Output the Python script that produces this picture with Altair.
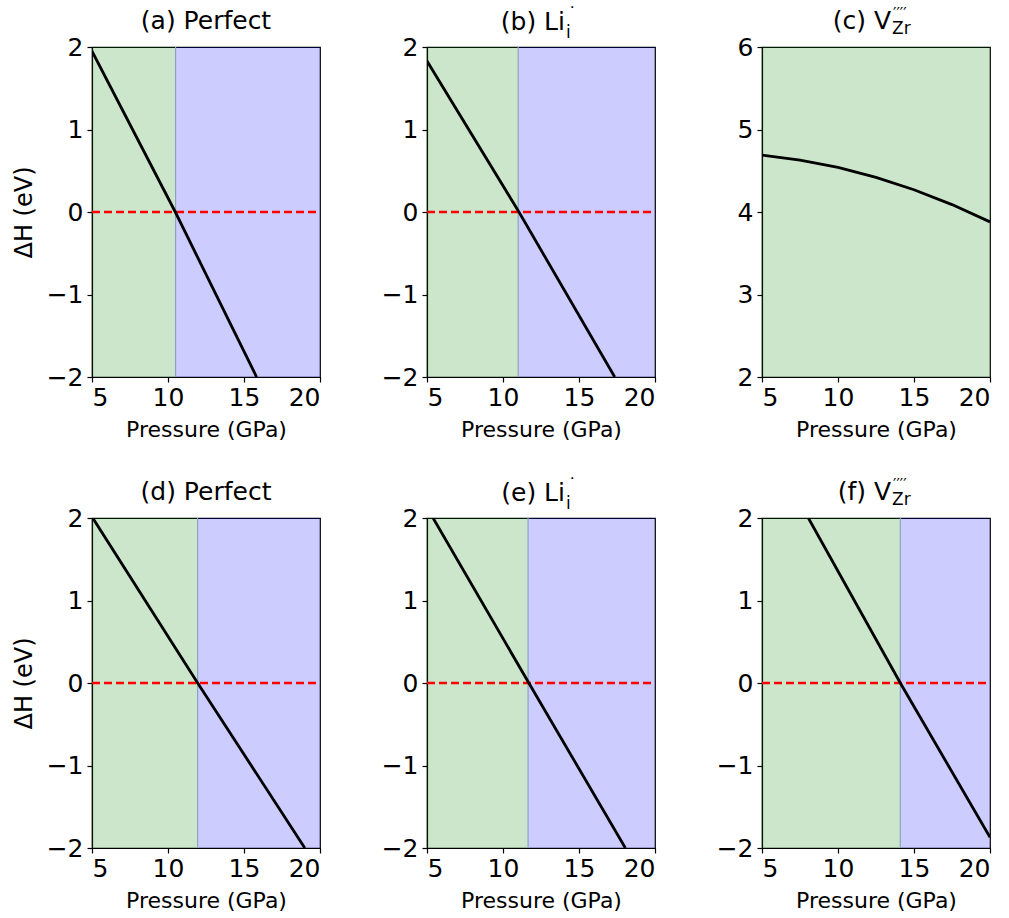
import altair as alt
import pandas as pd

# ---- data ----
a_p = [5.0, 10.48, 15.83]
a_h = [1.95, 0.0, -2.0]
a_b = 10.5

b_p = [5.0, 11.05, 17.35]
b_h = [1.83, 0.0, -2.0]
b_b = 11.0

c_p = [5.0, 7.5, 10.0, 12.5, 15.0, 17.5, 20.0]
c_h = [4.69, 4.63, 4.54, 4.42, 4.27, 4.09, 3.88]
c_b = 20.0

d_p = [5.05, 11.95, 19.0]
d_h = [2.0, 0.0, -2.0]
d_b = 11.95

e_p = [5.4, 11.7, 18.05]
e_h = [2.0, 0.0, -2.0]
e_b = 11.65

f_p = [8.05, 14.1, 20.0]
f_h = [2.0, 0.0, -1.87]
f_b = 14.1

x_min, x_max = 5, 20
x_ticks = [5, 10, 15, 20]

W, H = 228, 330
FONT = "DejaVu Sans"


def title_layers(parts):
    out = []
    for text, dx, dy, size, align in parts:
        out.append(
            alt.Chart(alt.Data(values=[{}]))
            .mark_text(text=text, font=FONT, fontSize=size, align=align,
                       baseline="alphabetic", color="black", clip=False)
            .encode(x=alt.value(dx), y=alt.value(dy))
        )
    return out


def panel(p, h, boundary, ydom, yticks, parts, ytitle, red=True):
    xs = alt.Scale(domain=[x_min, x_max], nice=False, zero=False)
    ys = alt.Scale(domain=ydom, nice=False, zero=False)
    xax = alt.Axis(values=x_ticks, title="Pressure (GPa)", grid=False,
                   titleFontSize=22)
    yax = alt.Axis(values=yticks, title=ytitle, grid=False, format="d",
                   titleFontSize=24)

    spans = pd.DataFrame({
        "x0": [x_min, boundary],
        "x1": [boundary, x_max],
        "c": ["#008000", "#0000ff"],
    })
    spans = spans[spans["x1"] > spans["x0"]]
    rect = alt.Chart(spans).mark_rect(opacity=0.2).encode(
        x=alt.X("x0:Q", scale=xs, axis=xax),
        x2="x1:Q",
        y=alt.value(0),
        y2=alt.value(H),
        color=alt.Color("c:N", scale=None),
    )
    layers = [rect]
    if boundary < x_max:
        edge = alt.Chart(pd.DataFrame({"b": [boundary]})).mark_rule(
            color="#8aa3c4", strokeWidth=1.2).encode(
            x=alt.X("b:Q", scale=xs), y=alt.value(0), y2=alt.value(H))
        layers.append(edge)
    if red:
        zero = alt.Chart(pd.DataFrame({"z": [0.0]})).mark_rule(
            color="#ff0000", strokeWidth=2.6, strokeDash=[8, 4]).encode(
            y=alt.Y("z:Q", scale=ys), x=alt.value(0), x2=alt.value(W))
        layers.append(zero)
    line = alt.Chart(pd.DataFrame({"p": p, "h": h})).mark_line(
        color="black", strokeWidth=2.8, clip=True).encode(
        x=alt.X("p:Q", scale=xs, axis=xax),
        y=alt.Y("h:Q", scale=ys, axis=yax),
        order="p:Q",
    )
    layers.append(line)
    layers += title_layers(parts)
    return alt.layer(*layers).properties(width=W, height=H)


BY = -18
TS = 25


def li_title(letter):
    return [(f"({letter}) Li", 138, BY + 1, TS, "right"),
            ("i", 139, BY + 9, 17, "left"),
            ("˙", 141, BY - 9, 17, "left")]


def v_title(letter):
    return [(f"({letter}) V", 129, BY, TS, "right"),
            ("Zr", 130, BY + 5, 17, "left"),
            ("′′′′", 131, BY - 10, 15, "left")]


pa = panel(a_p, a_h, a_b, [-2, 2], [-2, -1, 0, 1, 2],
           [("(a) Perfect", W / 2, BY, TS, "center")], "ΔH (eV)")
pb = panel(b_p, b_h, b_b, [-2, 2], [-2, -1, 0, 1, 2], li_title("b"), "")
pc = panel(c_p, c_h, c_b, [2, 6], [2, 3, 4, 5, 6], v_title("c"), "",
           red=False)
pd_ = panel(d_p, d_h, d_b, [-2, 2], [-2, -1, 0, 1, 2],
            [("(d) Perfect", W / 2, BY, TS, "center")], "ΔH (eV)")
pe = panel(e_p, e_h, e_b, [-2, 2], [-2, -1, 0, 1, 2], li_title("e"), "")
pf = panel(f_p, f_h, f_b, [-2, 2], [-2, -1, 0, 1, 2], v_title("f"), "")

chart = (
    alt.concat(pa, pb, pc, pd_, pe, pf, columns=3,
               spacing={"row": 141, "column": 107}, bounds="flush")
    .properties(padding={"left": 11, "top": 5, "right": 5, "bottom": 5},
                background="white")
    .configure_view(stroke="black", strokeWidth=1.2)
    .configure_axis(
        labelFont=FONT, titleFont=FONT, labelFontSize=25,
        labelColor="black", titleColor="black", titleFontWeight="normal",
        domainColor="black", domainWidth=1.2, tickColor="black", tickSize=5,
        tickWidth=1.2,
    )
    .configure_axisX(labelPadding=3, titlePadding=9)
    .configure_axisY(labelPadding=4, titlePadding=10)
)

chart.save("out.html", embed_options={"renderer": "svg", "actions": False})
